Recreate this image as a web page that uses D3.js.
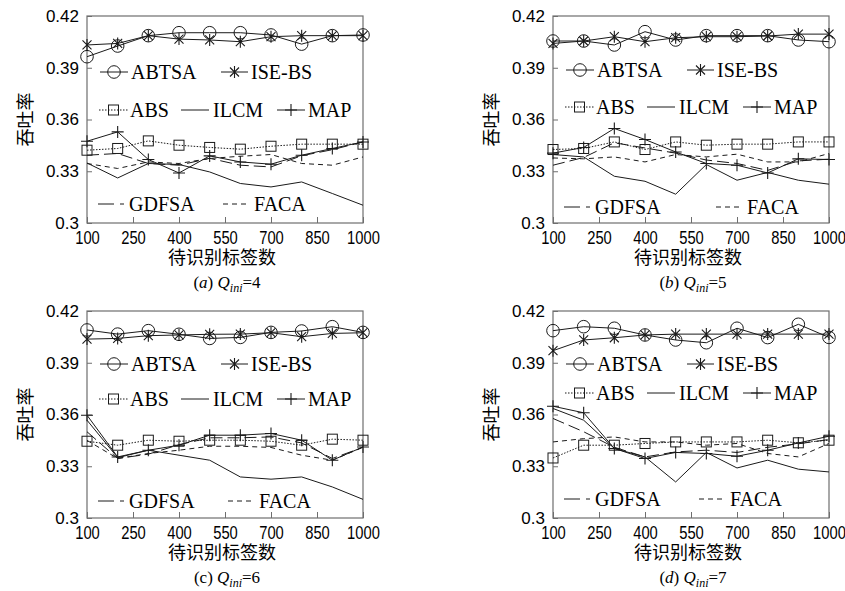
<!DOCTYPE html>
<html>
<head>
<meta charset="utf-8">
<script src="https://cdn.jsdelivr.net/npm/d3@7"></script>
<style>
  body { margin: 0; background: #fff; }
  svg { display: block; }
  .serif { font-family: "Liberation Serif", "Times New Roman", Times, "DejaVu Serif", serif; }
  .sans { font-family: "Liberation Sans", Arial, Helvetica, sans-serif; }
  .cjk { font-family: "Noto Sans CJK SC", sans-serif; }
</style>
</head>
<body>
<svg id="chart" width="845" height="591"></svg>
<script>
// Data: 7 methods x 4 panels (a..d), x = 100..1000
const xValues = [100, 200, 300, 400, 500, 600, 700, 800, 900, 1000];
const xTicks = [100, 250, 400, 550, 700, 850, 1000];
const yTicks = [0.3, 0.33, 0.36, 0.39, 0.42];
const yTickLabels = ["0.3", "0.33", "0.36", "0.39", "0.42"];
const panelLetters = ["a", "b", "c", "d"];
const qValues = [4, 5, 6, 7];
const seriesNames = ["ABTSA", "ISE-BS", "ABS", "ILCM", "MAP", "GDFSA", "FACA"];

const abtsa = [
    [0.3964, 0.4026, 0.4086, 0.4103, 0.4103, 0.4103, 0.4090, 0.4037, 0.4086, 0.4090],
    [0.4055, 0.4055, 0.4032, 0.4109, 0.4061, 0.4086, 0.4086, 0.4086, 0.4061, 0.4051],
    [0.4090, 0.4066, 0.4086, 0.4065, 0.4041, 0.4047, 0.4076, 0.4084, 0.4109, 0.4076],
    [0.4086, 0.4109, 0.4100, 0.4061, 0.4032, 0.4016, 0.4100, 0.4046, 0.4123, 0.4047]
];
const iseBs = [
    [0.4032, 0.4041, 0.4086, 0.4066, 0.4061, 0.4051, 0.4080, 0.4086, 0.4086, 0.4086],
    [0.4041, 0.4055, 0.4080, 0.4051, 0.4074, 0.4080, 0.4080, 0.4084, 0.4095, 0.4095],
    [0.4037, 0.4041, 0.4057, 0.4061, 0.4065, 0.4066, 0.4074, 0.4051, 0.4070, 0.4074],
    [0.3970, 0.4032, 0.4045, 0.4061, 0.4066, 0.4066, 0.4066, 0.4066, 0.4066, 0.4066]
];
const abs = [
    [0.3422, 0.3432, 0.3476, 0.3451, 0.3438, 0.3428, 0.3445, 0.3457, 0.3457, 0.3457],
    [0.3426, 0.3432, 0.3470, 0.3426, 0.3470, 0.3451, 0.3457, 0.3457, 0.3470, 0.3470],
    [0.3445, 0.3422, 0.3451, 0.3445, 0.3451, 0.3451, 0.3445, 0.3422, 0.3457, 0.3451],
    [0.3348, 0.3422, 0.3422, 0.3432, 0.3441, 0.3441, 0.3441, 0.3451, 0.3436, 0.3451]
];
const ilcm = [
    [0.3348, 0.3261, 0.3345, 0.3339, 0.3296, 0.3229, 0.3209, 0.3238, 0.3171, 0.3103],
    [0.3397, 0.3383, 0.3271, 0.3242, 0.3167, 0.3339, 0.3248, 0.3293, 0.3248, 0.3225],
    [0.3567, 0.3350, 0.3393, 0.3364, 0.3335, 0.3238, 0.3225, 0.3238, 0.3180, 0.3108],
    [0.3635, 0.3567, 0.3403, 0.3354, 0.3209, 0.3380, 0.3290, 0.3335, 0.3283, 0.3267]
];
const map = [
    [0.3474, 0.3528, 0.3368, 0.3290, 0.3389, 0.3354, 0.3341, 0.3393, 0.3432, 0.3470],
    [0.3405, 0.3438, 0.3548, 0.3484, 0.3412, 0.3345, 0.3335, 0.3290, 0.3372, 0.3368],
    [0.3596, 0.3354, 0.3393, 0.3422, 0.3480, 0.3480, 0.3490, 0.3451, 0.3335, 0.3412],
    [0.3648, 0.3610, 0.3403, 0.3345, 0.3380, 0.3374, 0.3358, 0.3393, 0.3435, 0.3474]
];
const gdfsa = [
    [0.3393, 0.3403, 0.3345, 0.3335, 0.3375, 0.3335, 0.3325, 0.3390, 0.3425, 0.3470],
    [0.3335, 0.3380, 0.3465, 0.3435, 0.3405, 0.3365, 0.3345, 0.3305, 0.3360, 0.3370],
    [0.3500, 0.3345, 0.3370, 0.3425, 0.3465, 0.3465, 0.3470, 0.3435, 0.3345, 0.3410],
    [0.3577, 0.3500, 0.3410, 0.3354, 0.3383, 0.3393, 0.3380, 0.3410, 0.3430, 0.3455]
];
const faca = [
    [0.3345, 0.3316, 0.3354, 0.3345, 0.3374, 0.3387, 0.3397, 0.3345, 0.3335, 0.3383],
    [0.3377, 0.3372, 0.3383, 0.3354, 0.3397, 0.3383, 0.3399, 0.3354, 0.3354, 0.3403],
    [0.3450, 0.3345, 0.3374, 0.3393, 0.3416, 0.3416, 0.3409, 0.3364, 0.3335, 0.3410],
    [0.3441, 0.3460, 0.3470, 0.3441, 0.3441, 0.3422, 0.3432, 0.3374, 0.3354, 0.3432]
];
const seriesData = [abtsa, iseBs, abs, ilcm, map, gdfsa, faca];

// layout
const panelW = 276, panelH = 207;
const panelPos = [
    { left: 87, top: 16 }, { left: 553, top: 16 },
    { left: 87, top: 311 }, { left: 553, top: 311 }
];
// legend row offsets (y inside plot) and FACA x shift per panel
const legendRows = [[56, 94, 188], [54, 91, 191], [53, 88, 190], [53, 82, 188]];
const facaShift = [0, 27, 5, 10];

const ink = "#1a1a1a";
const frameColor = "#6e6e6e";
const styles = [
    { dash: null, marker: "circle" },
    { dash: null, marker: "star" },
    { dash: "1.5,1.5", marker: "square" },
    { dash: null, marker: null },
    { dash: null, marker: "plus" },
    { dash: "12,5", marker: null },
    { dash: "5,4", marker: null }
];

// legend slots: [series index, row, line start x, line end x, text x]
const legendSlots = [
    [0, 0, 13, 41, 44],
    [1, 0, 134, 161, 164],
    [2, 1, 12, 41, 43],
    [3, 1, 94, 122, 126],
    [4, 1, 190, 218, 221],
    [5, 2, 11, 37, 42],
    [6, 2, 136, 162, 167]
];

const svg = d3.select("#chart");

function drawMarker(g, type, cx, cy) {
    if (type === "circle") {
        g.append("circle").attr("cx", cx).attr("cy", cy).attr("r", 6.3)
            .attr("fill", "none").attr("stroke", ink).attr("stroke-width", 1);
    } else if (type === "square") {
        g.append("rect").attr("x", cx - 5).attr("y", cy - 5).attr("width", 10).attr("height", 10)
            .attr("fill", "none").attr("stroke", ink).attr("stroke-width", 1);
    } else if (type === "plus") {
        g.append("path").attr("d", `M${cx - 6},${cy}H${cx + 6}M${cx},${cy - 6}V${cy + 6}`)
            .attr("stroke", ink).attr("stroke-width", 1.1).attr("fill", "none");
    } else if (type === "star") {
        const s = 4.5;
        g.append("path")
            .attr("d", `M${cx - s},${cy - s}L${cx + s},${cy + s}M${cx - s},${cy + s}L${cx + s},${cy - s}M${cx},${cy - 6}V${cy + 6}`)
            .attr("stroke", ink).attr("stroke-width", 1.1).attr("fill", "none");
    }
}

panelPos.forEach((pos, p) => {
    const g = svg.append("g").attr("transform", `translate(${pos.left},${pos.top})`);

    const x = d3.scaleLinear().domain([100, 1000]).range([0, panelW]);
    const y = d3.scaleLinear().domain([0.3, 0.42]).range([panelH, 0]);

    // frame
    g.append("rect").attr("width", panelW).attr("height", panelH)
        .attr("fill", "none").attr("stroke", frameColor).attr("stroke-width", 1.2);

    // x axis (ticks inward), labels are narrow in the original
    const xAxis = g.append("g")
        .attr("transform", `translate(0,${panelH})`)
        .attr("font-family", null)
        .call(d3.axisBottom(x).tickValues(xTicks).tickFormat(d3.format("d"))
            .tickSizeInner(-6).tickSizeOuter(0).tickPadding(8));
    xAxis.select(".domain").remove();
    xAxis.selectAll("line").attr("stroke", frameColor);
    xAxis.selectAll("text")
        .attr("class", "sans")
        .attr("font-size", 18).attr("fill", "#000")
        .attr("transform", "scale(0.82,1)");

    // y axis (ticks inward)
    const yAxis = g.append("g")
        .call(d3.axisLeft(y).tickValues(yTicks).tickSizeInner(-5).tickSizeOuter(0).tickPadding(8)
            .tickFormat((d, i) => yTickLabels[i]));
    yAxis.attr("font-family", null);
    yAxis.select(".domain").remove();
    yAxis.selectAll("line").attr("stroke", frameColor);
    yAxis.selectAll("text")
        .attr("class", "sans")
        .attr("font-size", 17).attr("fill", "#000");

    // axis titles
    g.append("text")
        .attr("class", "cjk")
        .attr("transform", `translate(-55,${panelH / 2}) rotate(-90)`)
        .attr("text-anchor", "middle")
        .attr("font-size", 18)
        .text("吞吐率");

    g.append("text")
        .attr("class", "cjk")
        .attr("x", panelW / 2 - 3).attr("y", panelH + 41)
        .attr("text-anchor", "middle")
        .attr("font-size", 18)
        .text("待识别标签数");

    // caption
    const cap = g.append("text")
        .attr("class", "serif")
        .attr("x", panelW / 2 + 2).attr("y", panelH + 65)
        .attr("text-anchor", "middle")
        .attr("font-size", 17);
    cap.append("tspan").text("(");
    cap.append("tspan").attr("font-style", panelLetters[p] === "c" ? "normal" : "italic").text(panelLetters[p]);
    cap.append("tspan").text(") ");
    cap.append("tspan").attr("font-style", "italic").text("Q");
    cap.append("tspan").attr("font-style", "italic").attr("font-size", 12).attr("dy", 4).text("ini");
    cap.append("tspan").attr("dy", -4).text("=" + qValues[p]);

    // series lines
    seriesData.forEach((series, s) => {
        const vals = series[p];
        const pts = xValues.map((xv, i) => [x(xv), y(vals[i])]);
        const path = g.append("path")
            .attr("d", d3.line()(pts))
            .attr("fill", "none")
            .attr("stroke", ink)
            .attr("stroke-width", 1);
        if (styles[s].dash) path.attr("stroke-dasharray", styles[s].dash);
        if (styles[s].marker) {
            const mg = g.append("g");
            pts.forEach(pt => drawMarker(mg, styles[s].marker, pt[0], pt[1]));
        }
    });

    // legend
    const lg = g.append("g");
    legendSlots.forEach(slot => {
        const [s, row, x0, x1, tx] = slot;
        const shift = s === 6 ? facaShift[p] : 0;
        const ly = legendRows[p][row];
        const line = lg.append("line")
            .attr("x1", x0 + shift).attr("x2", x1 + shift)
            .attr("y1", ly).attr("y2", ly)
            .attr("stroke", ink).attr("stroke-width", 1);
        if (styles[s].dash) line.attr("stroke-dasharray", s === 5 ? "16,6" : styles[s].dash);
        if (styles[s].marker) drawMarker(lg, styles[s].marker, (x0 + x1) / 2 + shift, ly);
        lg.append("text")
            .attr("class", "serif")
            .attr("x", tx + shift).attr("y", ly + 7)
            .attr("font-size", 20)
            .text(seriesNames[s]);
    });
});
</script>
</body>
</html>
